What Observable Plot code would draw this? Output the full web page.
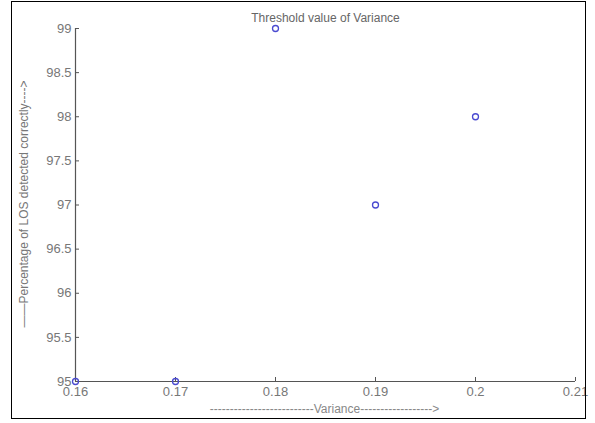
<!DOCTYPE html>
<html>
<head>
<meta charset="utf-8">
<script src="https://cdn.jsdelivr.net/npm/d3@7"></script>
<script src="https://cdn.jsdelivr.net/npm/@observablehq/plot@0.6"></script>
<style>
  html, body { margin: 0; padding: 0; background: #fff; }
  #wrap { position: relative; width: 595px; height: 423px; }
  #frame { position: absolute; left: 11px; top: 1px; width: 573px; height: 416px; border: 1.5px solid #000; box-sizing: content-box; pointer-events: none; }
  svg { font-family: "Liberation Sans", Arial, sans-serif; }
</style>
</head>
<body>
<div id="wrap"><div id="frame"></div></div>
<script>
const variance = [0.16, 0.17, 0.18, 0.19, 0.20];
const percentCorrect = [95, 95, 99, 97, 98];
const xTicks = [0.16, 0.17, 0.18, 0.19, 0.20, 0.21];
const yTicks = [95, 95.5, 96, 96.5, 97, 97.5, 98, 98.5, 99];
const titleText = "Threshold value of Variance";
const xLabel = "--------------------------Variance------------------>";
const yLabel = "\u2014\u2014Percentage of LOS detected correctly---->";

const data = variance.map((v, i) => ({variance: v, pct: percentCorrect[i]}));

const chart = Plot.plot({
  width: 595,
  height: 423,
  marginLeft: 75,
  marginRight: 20,
  marginTop: 28,
  marginBottom: 42,
  style: {fontFamily: "Liberation Sans, Arial, sans-serif", fontSize: "13px", color: "#777"},
  x: {type: "linear", domain: [0.16, 0.21]},
  y: {type: "linear", domain: [95, 99]},
  marks: [
    Plot.ruleX([0.16], {stroke: "#555", strokeWidth: 1.2}),
    Plot.ruleY([95], {stroke: "#555", strokeWidth: 1.2}),
    Plot.axisX({ticks: xTicks, tickSize: -4, tickPadding: 9, stroke: "#555", tickFormat: d => String(+d.toFixed(2)), label: null, fill: "#777", fontSize: 13}),
    Plot.axisY({ticks: yTicks, tickSize: -4, tickPadding: 8, stroke: "#555", tickFormat: d => String(d), label: null, fill: "#777", fontSize: 13}),
    Plot.dot(data, {x: "variance", y: "pct", r: 3, stroke: "#4a4ad0", strokeWidth: 1.3, fill: "none"}),
    Plot.text([titleText], {frameAnchor: "top", dy: -15, fontSize: 12, fill: "#666"}),
    Plot.text([xLabel], {frameAnchor: "bottom", dy: 31, dx: -1, fontSize: 12, fill: "#888"}),
    Plot.text([yLabel], {frameAnchor: "left", dx: -51, dy: -1, rotate: -90, textAnchor: "middle", fontSize: 12, fill: "#777"})
  ]
});
document.getElementById("wrap").prepend(chart);
</script>
</body>
</html>
